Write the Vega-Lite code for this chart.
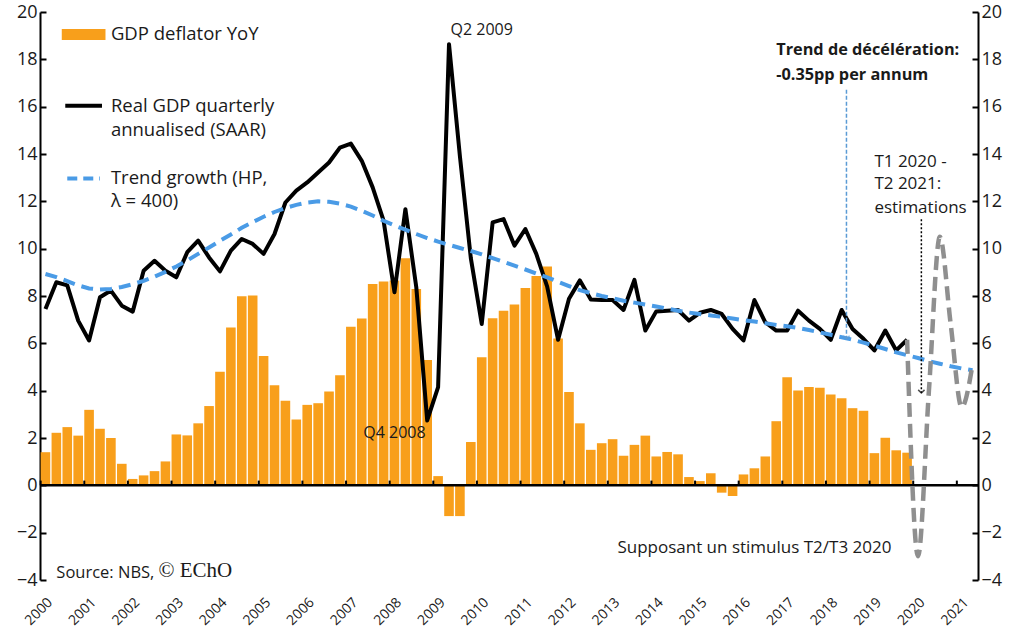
{
  "$schema": "https://vega.github.io/schema/vega-lite/v6.json",
  "width": 938,
  "height": 568,
  "autosize": {"type": "none"},
  "padding": {"left": 40, "top": 12, "right": 46, "bottom": 60},
  "background": "white",
  "config": {
    "view": {"stroke": null},
    "font": "Open Sans",
    "axis": {"labelFont": "Open Sans", "labelColor": "#1a1a1a", "domainColor": "black", "tickColor": "black", "grid": false, "title": null},
    "text": {"color": "#1a1a1a"}
  },
  "datasets": {
    "main": [
      {"q":"2000Q1","deflator":1.40,"gdp":7.45,"trend":8.93},
      {"q":"2000Q2","deflator":2.22,"gdp":8.58,"trend":8.80},
      {"q":"2000Q3","deflator":2.46,"gdp":8.45,"trend":8.63},
      {"q":"2000Q4","deflator":2.10,"gdp":6.96,"trend":8.45},
      {"q":"2001Q1","deflator":3.19,"gdp":6.12,"trend":8.32},
      {"q":"2001Q2","deflator":2.39,"gdp":7.95,"trend":8.27},
      {"q":"2001Q3","deflator":2.00,"gdp":8.23,"trend":8.30},
      {"q":"2001Q4","deflator":0.91,"gdp":7.59,"trend":8.38},
      {"q":"2002Q1","deflator":0.27,"gdp":7.34,"trend":8.50},
      {"q":"2002Q2","deflator":0.42,"gdp":9.07,"trend":8.64},
      {"q":"2002Q3","deflator":0.60,"gdp":9.49,"trend":8.82},
      {"q":"2002Q4","deflator":1.01,"gdp":9.07,"trend":9.02},
      {"q":"2003Q1","deflator":2.15,"gdp":8.79,"trend":9.25},
      {"q":"2003Q2","deflator":2.11,"gdp":9.85,"trend":9.50},
      {"q":"2003Q3","deflator":2.62,"gdp":10.34,"trend":9.78},
      {"q":"2003Q4","deflator":3.35,"gdp":9.63,"trend":10.05},
      {"q":"2004Q1","deflator":4.80,"gdp":9.04,"trend":10.33},
      {"q":"2004Q2","deflator":6.67,"gdp":9.92,"trend":10.60},
      {"q":"2004Q3","deflator":7.99,"gdp":10.41,"trend":10.88},
      {"q":"2004Q4","deflator":8.02,"gdp":10.2,"trend":11.12},
      {"q":"2005Q1","deflator":5.47,"gdp":9.78,"trend":11.35},
      {"q":"2005Q2","deflator":4.23,"gdp":10.62,"trend":11.55},
      {"q":"2005Q3","deflator":3.57,"gdp":11.95,"trend":11.72},
      {"q":"2005Q4","deflator":2.78,"gdp":12.45,"trend":11.85},
      {"q":"2006Q1","deflator":3.40,"gdp":12.8,"trend":11.95},
      {"q":"2006Q2","deflator":3.47,"gdp":13.22,"trend":12.0},
      {"q":"2006Q3","deflator":3.97,"gdp":13.64,"trend":11.98},
      {"q":"2006Q4","deflator":4.65,"gdp":14.27,"trend":11.90},
      {"q":"2007Q1","deflator":6.70,"gdp":14.44,"trend":11.78},
      {"q":"2007Q2","deflator":7.05,"gdp":13.71,"trend":11.60},
      {"q":"2007Q3","deflator":8.51,"gdp":12.59,"trend":11.40},
      {"q":"2007Q4","deflator":8.61,"gdp":11.18,"trend":11.18},
      {"q":"2008Q1","deflator":8.65,"gdp":8.16,"trend":10.98},
      {"q":"2008Q2","deflator":9.60,"gdp":11.67,"trend":10.80},
      {"q":"2008Q3","deflator":8.30,"gdp":8.37,"trend":10.62},
      {"q":"2008Q4","deflator":5.30,"gdp":2.74,"trend":10.45},
      {"q":"2009Q1","deflator":0.39,"gdp":4.15,"trend":10.30},
      {"q":"2009Q2","deflator":-1.30,"gdp":18.64,"trend":10.16},
      {"q":"2009Q3","deflator":-1.30,"gdp":13.9,"trend":10.03},
      {"q":"2009Q4","deflator":1.83,"gdp":9.6,"trend":9.90},
      {"q":"2010Q1","deflator":5.41,"gdp":6.82,"trend":9.76},
      {"q":"2010Q2","deflator":7.06,"gdp":11.11,"trend":9.60},
      {"q":"2010Q3","deflator":7.38,"gdp":11.25,"trend":9.44},
      {"q":"2010Q4","deflator":7.64,"gdp":10.13,"trend":9.28},
      {"q":"2011Q1","deflator":8.34,"gdp":10.83,"trend":9.12},
      {"q":"2011Q2","deflator":8.85,"gdp":9.78,"trend":8.95},
      {"q":"2011Q3","deflator":9.25,"gdp":8.4,"trend":8.79},
      {"q":"2011Q4","deflator":6.20,"gdp":6.15,"trend":8.60},
      {"q":"2012Q1","deflator":3.94,"gdp":7.88,"trend":8.42},
      {"q":"2012Q2","deflator":2.62,"gdp":8.66,"trend":8.25},
      {"q":"2012Q3","deflator":1.50,"gdp":7.85,"trend":8.12},
      {"q":"2012Q4","deflator":1.78,"gdp":7.83,"trend":8.00},
      {"q":"2013Q1","deflator":1.95,"gdp":7.83,"trend":7.90},
      {"q":"2013Q2","deflator":1.25,"gdp":7.41,"trend":7.80},
      {"q":"2013Q3","deflator":1.71,"gdp":8.68,"trend":7.72},
      {"q":"2013Q4","deflator":2.10,"gdp":6.54,"trend":7.64},
      {"q":"2014Q1","deflator":1.22,"gdp":7.35,"trend":7.56},
      {"q":"2014Q2","deflator":1.41,"gdp":7.38,"trend":7.47},
      {"q":"2014Q3","deflator":1.31,"gdp":7.41,"trend":7.38},
      {"q":"2014Q4","deflator":0.35,"gdp":6.96,"trend":7.30},
      {"q":"2015Q1","deflator":0.18,"gdp":7.29,"trend":7.24},
      {"q":"2015Q2","deflator":0.51,"gdp":7.41,"trend":7.18},
      {"q":"2015Q3","deflator":-0.31,"gdp":7.24,"trend":7.12},
      {"q":"2015Q4","deflator":-0.45,"gdp":6.61,"trend":7.05},
      {"q":"2016Q1","deflator":0.46,"gdp":6.12,"trend":6.98},
      {"q":"2016Q2","deflator":0.72,"gdp":7.83,"trend":6.92},
      {"q":"2016Q3","deflator":1.22,"gdp":6.89,"trend":6.85},
      {"q":"2016Q4","deflator":2.71,"gdp":6.54,"trend":6.78},
      {"q":"2017Q1","deflator":4.57,"gdp":6.54,"trend":6.72},
      {"q":"2017Q2","deflator":4.01,"gdp":7.38,"trend":6.65},
      {"q":"2017Q3","deflator":4.16,"gdp":6.96,"trend":6.56},
      {"q":"2017Q4","deflator":4.12,"gdp":6.61,"trend":6.46},
      {"q":"2018Q1","deflator":3.84,"gdp":6.15,"trend":6.36},
      {"q":"2018Q2","deflator":3.68,"gdp":7.41,"trend":6.26},
      {"q":"2018Q3","deflator":3.26,"gdp":6.61,"trend":6.15},
      {"q":"2018Q4","deflator":3.15,"gdp":6.19,"trend":6.03},
      {"q":"2019Q1","deflator":1.36,"gdp":5.70,"trend":5.90},
      {"q":"2019Q2","deflator":2.01,"gdp":6.54,"trend":5.76},
      {"q":"2019Q3","deflator":1.48,"gdp":5.70,"trend":5.62},
      {"q":"2019Q4","deflator":1.38,"gdp":6.15,"trend":5.50},
      {"q":"2020Q1","deflator":null,"gdp":null,"trend":5.38},
      {"q":"2020Q2","deflator":null,"gdp":null,"trend":5.25},
      {"q":"2020Q3","deflator":null,"gdp":null,"trend":5.14},
      {"q":"2020Q4","deflator":null,"gdp":null,"trend":5.03},
      {"q":"2021Q1","deflator":null,"gdp":null,"trend":4.94},
      {"q":"2021Q2","deflator":null,"gdp":null,"trend":4.86}
    ],
    "est": [
      {"q":"2019Q4","est":6.15},
      {"q":"2020Q1","est":-3.0},
      {"q":"2020Q2","est":4.0},
      {"q":"2020Q3","est":10.5},
      {"q":"2020Q4","est":6.8},
      {"q":"2021Q1","est":3.3},
      {"q":"2021Q2","est":5.1}
    ],
    "legendText": [
      {"q":"2001Q3","v":19.05,"label":"GDP deflator YoY"},
      {"q":"2001Q3","v":16.04,"label":"Real GDP quarterly"},
      {"q":"2001Q3","v":15.03,"label":"annualised (SAAR)"},
      {"q":"2001Q3","v":12.97,"label":"Trend growth (HP,"},
      {"q":"2001Q3","v":12.0,"label":"λ = 400)"}
    ],
    "notes": [
      {"q":"2010Q1","v":19.24,"label":"Q2 2009"},
      {"q":"2008Q1","v":2.23,"label":"Q4 2008"}
    ],
    "stimNote": [
      {"q":"2016Q2","v":-2.65,"label":"Supposant un stimulus T2/T3 2020"}
    ],
    "estNote": [
      {"q":"2019Q1","v":13.68,"label":"T1 2020 -"},
      {"q":"2019Q1","v":12.72,"label":"T2 2021:"},
      {"q":"2019Q1","v":11.71,"label":"estimations"}
    ],
    "boldNote": [
      {"q":"2016Q4","v":18.4,"label":"Trend de décélération:"},
      {"q":"2016Q4","v":17.35,"label":"-0.35pp per annum"}
    ],
    "source": [
      {"q":"2000Q2","v":-3.7,"label":"Source: NBS,"}
    ],
    "brand": [
      {"q":"2002Q3","v":-3.62,"label":"© EChO"}
    ],
    "swatch": [
      {"series":"deflator","q":"2000Q3","q2":"2001Q2","v":19.05},
      {"series":"gdp","q":"2000Q3","q2":"2001Q2","v":16.04},
      {"series":"trend","q":"2000Q3","q2":"2001Q2","v":12.97}
    ],
    "blueArrow": [{"q":"2018Q2","top":16.72,"bottom":6.19}],
    "blackArrow": [{"q":"2020Q1","top":11.24,"bottom":3.9}]
  },
  "layer": [
    {
      "data": {"name": "main"},
      "mark": {"type": "bar", "color": "#F89F1B"},
      "encoding": {
        "x": {
          "field": "q", "type": "ordinal",
          "scale": {
            "domain": ["2000Q1","2000Q2","2000Q3","2000Q4","2001Q1","2001Q2","2001Q3","2001Q4","2002Q1","2002Q2","2002Q3","2002Q4","2003Q1","2003Q2","2003Q3","2003Q4","2004Q1","2004Q2","2004Q3","2004Q4","2005Q1","2005Q2","2005Q3","2005Q4","2006Q1","2006Q2","2006Q3","2006Q4","2007Q1","2007Q2","2007Q3","2007Q4","2008Q1","2008Q2","2008Q3","2008Q4","2009Q1","2009Q2","2009Q3","2009Q4","2010Q1","2010Q2","2010Q3","2010Q4","2011Q1","2011Q2","2011Q3","2011Q4","2012Q1","2012Q2","2012Q3","2012Q4","2013Q1","2013Q2","2013Q3","2013Q4","2014Q1","2014Q2","2014Q3","2014Q4","2015Q1","2015Q2","2015Q3","2015Q4","2016Q1","2016Q2","2016Q3","2016Q4","2017Q1","2017Q2","2017Q3","2017Q4","2018Q1","2018Q2","2018Q3","2018Q4","2019Q1","2019Q2","2019Q3","2019Q4","2020Q1","2020Q2","2020Q3","2020Q4","2021Q1","2021Q2"],
            "paddingInner": 0.12, "paddingOuter": 0.06
          },
          "axis": {
            "orient": "bottom", "domain": false, "ticks": false,
            "labelExpr": "indexof(datum.value,'Q1') > 0 ? slice(datum.value,0,4) : ''",
            "labelAngle": -45, "labelAlign": "right", "labelBaseline": "top",
            "labelPadding": 15, "labelFontSize": 14, "labelOverlap": false, "bandPosition": 0, "title": null
          }
        },
        "y": {
          "field": "deflator", "type": "quantitative",
          "scale": {"domain": [-4, 20], "nice": false, "zero": false},
          "axis": {"orient": "left", "values": [-4,-2,0,2,4,6,8,10,12,14,16,18,20], "labelFontSize": 18, "domainWidth": 2, "tickWidth": 2, "tickSize": -6, "labelPadding": 9, "title": null}
        }
      }
    },
    {
      "data": {"values": [{"zero": 0}]},
      "mark": {"type": "rule", "color": "black", "strokeWidth": 2.5},
      "encoding": {"y": {"field": "zero", "type": "quantitative", "axis": null}}
    },
    {
      "data": {"name": "main"},
      "transform": [{"filter": "indexof(datum.q,'Q1') > 0"}],
      "mark": {"type": "rule", "color": "black", "strokeWidth": 2},
      "encoding": {
        "x": {"field": "q", "type": "ordinal", "bandPosition": 0, "axis": null},
        "y": {"datum": 0, "type": "quantitative", "axis": null},
        "y2": {"datum": 0.2}
      }
    },
    {
      "data": {"name": "main"},
      "mark": {"type": "line", "color": "black", "strokeWidth": 4, "strokeJoin": "round"},
      "encoding": {
        "x": {"field": "q", "type": "ordinal", "axis": null},
        "y": {
          "field": "gdp", "type": "quantitative",
          "axis": {"orient": "right", "values": [-4,-2,0,2,4,6,8,10,12,14,16,18,20], "labelFontSize": 18, "domainWidth": 2, "tickWidth": 2, "tickSize": -6, "labelPadding": 9, "title": null}
        }
      }
    },
    {
      "data": {"name": "main"},
      "mark": {"type": "line", "color": "#4A9BE6", "strokeWidth": 4, "strokeDash": [12, 7]},
      "encoding": {
        "x": {"field": "q", "type": "ordinal", "axis": null},
        "y": {"field": "trend", "type": "quantitative", "axis": null}
      }
    },
    {
      "data": {"name": "est"},
      "mark": {"type": "line", "color": "#8F8F8F", "strokeWidth": 4.5, "strokeDash": [14, 7], "interpolate": "monotone"},
      "encoding": {
        "x": {"field": "q", "type": "ordinal", "axis": null},
        "y": {"field": "est", "type": "quantitative", "axis": null}
      }
    },
    {
      "data": {"name": "blueArrow"},
      "mark": {"type": "rule", "color": "#5B9BD5", "strokeWidth": 1.5, "strokeDash": [4, 2]},
      "encoding": {
        "x": {"field": "q", "type": "ordinal", "bandPosition": 1, "axis": null},
        "y": {"field": "top", "type": "quantitative", "axis": null},
        "y2": {"field": "bottom"}
      }
    },
    {
      "data": {"name": "blueArrow"},
      "mark": {"type": "point", "shape": "M -1 -1 L 0 0 L 1 -1", "filled": false, "color": "#5B9BD5", "strokeWidth": 1.5, "size": 40},
      "encoding": {
        "x": {"field": "q", "type": "ordinal", "bandPosition": 1, "axis": null},
        "y": {"field": "bottom", "type": "quantitative", "axis": null}
      }
    },
    {
      "data": {"name": "blackArrow"},
      "mark": {"type": "rule", "color": "black", "strokeWidth": 1.5, "strokeDash": [2, 2]},
      "encoding": {
        "x": {"field": "q", "type": "ordinal", "bandPosition": 0.85, "axis": null},
        "y": {"field": "top", "type": "quantitative", "axis": null},
        "y2": {"field": "bottom"}
      }
    },
    {
      "data": {"name": "blackArrow"},
      "mark": {"type": "point", "shape": "M -1 -1 L 0 0 L 1 -1", "filled": false, "color": "black", "strokeWidth": 1.5, "size": 40},
      "encoding": {
        "x": {"field": "q", "type": "ordinal", "bandPosition": 0.85, "axis": null},
        "y": {"field": "bottom", "type": "quantitative", "axis": null}
      }
    },
    {
      "data": {"name": "swatch"},
      "transform": [{"filter": "datum.series == 'deflator'"}],
      "mark": {"type": "rule", "color": "#F89F1B", "strokeWidth": 11, "strokeCap": "square"},
      "encoding": {
        "x": {"field": "q", "type": "ordinal", "axis": null},
        "x2": {"field": "q2"},
        "y": {"field": "v", "type": "quantitative", "axis": null}
      }
    },
    {
      "data": {"name": "swatch"},
      "transform": [{"filter": "datum.series == 'gdp'"}],
      "mark": {"type": "rule", "color": "black", "strokeWidth": 4, "strokeCap": "square"},
      "encoding": {
        "x": {"field": "q", "type": "ordinal", "axis": null},
        "x2": {"field": "q2"},
        "y": {"field": "v", "type": "quantitative", "axis": null}
      }
    },
    {
      "data": {"name": "swatch"},
      "transform": [{"filter": "datum.series == 'trend'"}],
      "mark": {"type": "rule", "color": "#4A9BE6", "strokeWidth": 4, "strokeDash": [10, 6]},
      "encoding": {
        "x": {"field": "q", "type": "ordinal", "axis": null},
        "x2": {"field": "q2"},
        "y": {"field": "v", "type": "quantitative", "axis": null}
      }
    },
    {
      "data": {"name": "legendText"},
      "mark": {"type": "text", "align": "left", "baseline": "middle", "fontSize": 18.5, "font": "Open Sans"},
      "encoding": {
        "x": {"field": "q", "type": "ordinal", "axis": null},
        "y": {"field": "v", "type": "quantitative", "axis": null},
        "text": {"field": "label"}
      }
    },
    {
      "data": {"name": "notes"},
      "mark": {"type": "text", "align": "center", "baseline": "middle", "fontSize": 16, "font": "Open Sans"},
      "encoding": {
        "x": {"field": "q", "type": "ordinal", "axis": null},
        "y": {"field": "v", "type": "quantitative", "axis": null},
        "text": {"field": "label"}
      }
    },
    {
      "data": {"name": "stimNote"},
      "mark": {"type": "text", "align": "center", "baseline": "middle", "fontSize": 17, "font": "Open Sans"},
      "encoding": {
        "x": {"field": "q", "type": "ordinal", "axis": null},
        "y": {"field": "v", "type": "quantitative", "axis": null},
        "text": {"field": "label"}
      }
    },
    {
      "data": {"name": "estNote"},
      "mark": {"type": "text", "align": "left", "baseline": "middle", "fontSize": 17, "font": "Open Sans"},
      "encoding": {
        "x": {"field": "q", "type": "ordinal", "axis": null},
        "y": {"field": "v", "type": "quantitative", "axis": null},
        "text": {"field": "label"}
      }
    },
    {
      "data": {"name": "boldNote"},
      "mark": {"type": "text", "align": "left", "baseline": "middle", "fontSize": 16.3, "fontWeight": "bold", "font": "Open Sans"},
      "encoding": {
        "x": {"field": "q", "type": "ordinal", "axis": null},
        "y": {"field": "v", "type": "quantitative", "axis": null},
        "text": {"field": "label"}
      }
    },
    {
      "data": {"name": "source"},
      "mark": {"type": "text", "align": "left", "baseline": "middle", "fontSize": 16.5, "font": "Open Sans"},
      "encoding": {
        "x": {"field": "q", "type": "ordinal", "axis": null},
        "y": {"field": "v", "type": "quantitative", "axis": null},
        "text": {"field": "label"}
      }
    },
    {
      "data": {"name": "brand"},
      "mark": {"type": "text", "align": "left", "baseline": "middle", "fontSize": 21, "font": "Liberation Serif", "dx": 4},
      "encoding": {
        "x": {"field": "q", "type": "ordinal", "axis": null},
        "y": {"field": "v", "type": "quantitative", "axis": null},
        "text": {"field": "label"}
      }
    }
  ],
  "resolve": {"scale": {"x": "shared", "y": "shared"}, "axis": {"x": "independent", "y": "independent"}}
}
